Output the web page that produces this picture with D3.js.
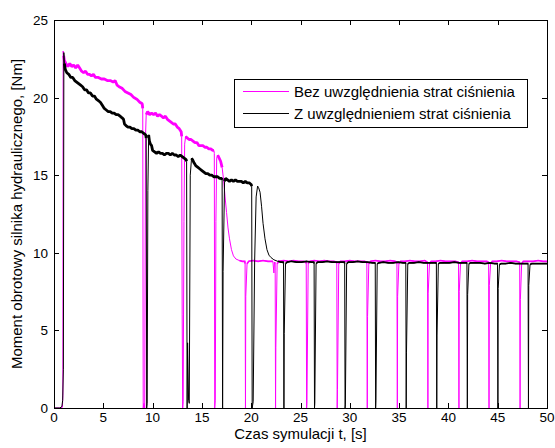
<!DOCTYPE html>
<html>
<head>
<meta charset="utf-8">
<script src="https://cdn.jsdelivr.net/npm/d3@7/dist/d3.min.js"></script>
<style>
  html, body { margin: 0; padding: 0; background: #fff; }
  svg { display: block; }
  text { font-family: "Liberation Sans", Arial, Helvetica, sans-serif; fill: #000; }
</style>
</head>
<body>
<svg id="chart" width="555" height="448"></svg>
<script>
// Torque of the hydraulic motor over simulation time, two model variants.
const xTicks = [0, 5, 10, 15, 20, 25, 30, 35, 40, 45, 50];
const yTicks = [0, 5, 10, 15, 20, 25];

const seriesNames = [
  "Bez uwzględnienia strat ciśnienia",
  "Z uwzględnieniem strat ciśnienia"
];

// [time s, torque Nm] – model without pressure losses
const bezStrat = [
  [0,0],[0.6,0],[0.85,0.05],[0.9,0.8],[0.93,23.0],[0.98,22.7],
  [1.05,22.4],[1.2,22.2],[1.4,22.0],[1.6,22.2],[1.8,22.0],[2.0,22.1],[2.2,21.9],[2.4,22.1],[2.6,21.9],[2.8,21.7],
  [3.0,21.6],[3.2,21.7],[3.4,21.5],[3.6,21.5],[3.8,21.4],[4.0,21.5],[4.2,21.3],[4.5,21.3],[4.8,21.2],[5.1,21.2],
  [5.4,21.1],[5.7,21.1],[6.0,21.0],[6.2,21.1],[6.4,20.8],[6.6,20.7],[6.9,20.6],[7.2,20.4],[7.5,20.3],[7.8,20.2],
  [8.1,20.0],[8.4,19.9],[8.7,19.7],[8.95,19.6],
  [9.0,19.3],[9.05,0],[9.12,0.3],[9.2,0],[9.28,17.5],[9.35,18.9],
  [9.5,19.1],[9.7,18.9],[9.9,19.0],[10.1,18.9],[10.3,19.0],[10.5,18.8],[10.7,18.9],[10.9,18.8],[11.1,18.7],
  [11.3,18.8],[11.5,18.6],[11.7,18.5],[11.9,18.4],[12.1,18.3],[12.3,18.3],[12.5,18.1],[12.7,18.0],[12.9,17.8],
  [12.95,17.5],[13.0,6.0],[13.05,0],[13.1,0.4],[13.18,12],[13.25,17.0],[13.35,17.5],
  [13.5,17.4],[13.7,17.3],[13.9,17.3],[14.1,17.2],[14.3,17.1],[14.5,17.1],[14.7,16.9],[14.9,16.9],[15.1,16.9],
  [15.3,16.8],[15.5,16.8],[15.7,16.7],[15.9,16.7],[16.1,16.6],[16.22,16.6],
  [16.26,16.4],[16.3,0],[16.36,0.5],[16.42,12],[16.5,16.1],[16.6,16.3],
  [16.75,16.1],[16.9,15.9],[17.05,15.5],[17.2,14.7],[17.35,13.6],[17.5,12.6],[17.65,11.6],[17.8,10.9],
  [18.0,10.2],[18.2,9.8],[18.45,9.6],[18.8,9.5],[19.1,9.45],[19.35,9.45],
  [19.38,9.3],[19.42,0],[19.45,7.2],[19.58,9.3],[19.75,9.45],
  [20.2,9.5],[20.7,9.45],[21.2,9.5],[21.7,9.45],[22.2,9.45],[22.3,8.7],[22.36,9.4],
  [22.43,9.3],[22.47,0],[22.5,3.9],[22.63,9.3],[22.8,9.45],
  [23.3,9.5],[23.8,9.45],[24.3,9.5],[24.8,9.45],[25.3,9.45],[25.55,9.4],
  [25.58,9.3],[25.62,0],[25.65,0.3],[25.78,9.3],[25.95,9.45],
  [26.4,9.5],[26.9,9.45],[27.4,9.5],[27.9,9.45],[28.4,9.45],[28.65,9.4],
  [28.68,9.3],[28.72,0],[28.75,1.2],[28.88,9.3],[29.05,9.45],
  [29.5,9.45],[30.0,9.5],[30.5,9.45],[31.0,9.45],[31.5,9.45],[31.7,9.4],
  [31.73,9.3],[31.77,0],[31.8,5.9],[31.93,9.3],[32.1,9.45],
  [32.6,9.5],[33.1,9.45],[33.6,9.45],[34.1,9.5],[34.6,9.45],[34.75,9.4],
  [34.78,9.3],[34.82,0],[34.85,7.2],[34.98,9.3],[35.15,9.45],
  [35.6,9.45],[36.1,9.5],[36.6,9.45],[37.1,9.45],[37.6,9.5],[37.85,9.4],
  [37.88,9.3],[37.92,0],[37.95,7.4],[38.08,9.3],[38.25,9.45],
  [38.7,9.45],[39.2,9.5],[39.7,9.45],[40.2,9.45],[40.7,9.45],[41.0,9.4],
  [41.03,9.3],[41.07,0],[41.1,7.5],[41.23,9.3],[41.4,9.45],
  [41.9,9.45],[42.4,9.5],[42.9,9.45],[43.4,9.45],[43.9,9.45],[44.05,9.4],
  [44.08,9.3],[44.12,0],[44.15,7.9],[44.28,9.3],[44.45,9.45],
  [44.9,9.45],[45.4,9.5],[45.9,9.45],[46.4,9.45],[46.9,9.45],[47.2,9.4],
  [47.23,9.3],[47.27,0],[47.3,7.0],[47.43,9.3],[47.6,9.45],
  [48.1,9.45],[48.6,9.45],[49.1,9.5],[49.6,9.45],[50,9.45]
];

// [time s, torque Nm] – model with pressure losses
const zStrat = [
  [0,0],[0.6,0],[0.8,0.1],[0.88,0.5],[0.95,2.5],[1.0,22.9],[1.05,22.2],
  [1.15,21.8],[1.3,21.6],[1.5,21.5],[1.7,21.3],[1.9,21.3],[2.1,21.1],[2.3,21.0],[2.5,20.9],[2.7,20.8],[2.9,20.7],
  [3.1,20.5],[3.3,20.5],[3.5,20.3],[3.7,20.3],[3.9,20.1],[4.1,20.1],[4.3,19.9],[4.5,19.8],[4.7,19.7],[4.9,19.5],
  [5.1,19.3],[5.3,19.2],[5.5,19.1],[5.7,19.1],[5.9,19.0],[6.1,19.0],[6.3,18.9],[6.5,18.9],[6.7,18.8],[6.9,18.7],
  [7.05,18.6],[7.15,18.3],[7.3,18.2],[7.5,18.1],[7.7,18.1],[7.9,18.0],[8.1,18.0],[8.3,17.9],[8.5,17.9],[8.7,17.8],
  [8.9,17.8],[9.1,17.7],[9.3,17.6],
  [9.35,17.4],[9.4,0],[9.45,0.3],[9.52,14],[9.6,17.6],[9.68,17.2],[9.78,17.0],[9.9,16.9],[10.0,16.6],[10.2,16.5],
  [10.4,16.4],[10.6,16.5],[10.8,16.4],[11.0,16.4],[11.2,16.3],[11.4,16.4],[11.6,16.4],[11.8,16.3],[12.0,16.4],
  [12.2,16.3],[12.4,16.3],[12.6,16.2],[12.8,16.3],[13.0,16.2],[13.2,16.1],[13.4,16.0],
  [13.45,15.9],[13.5,0],[13.55,4.2],[13.65,0.5],[13.72,0.3],[13.82,15.0],[13.95,16.1],[14.05,16.0],[14.2,15.8],
  [14.4,15.6],[14.6,15.5],[14.8,15.4],[15.0,15.3],[15.2,15.2],[15.4,15.1],[15.6,15.1],[15.8,15.0],[16.0,15.0],
  [16.2,14.9],[16.4,14.9],[16.6,14.9],[16.8,14.8],[17.0,14.8],
  [17.05,14.7],[17.1,0],[17.15,8.8],[17.3,14.6],[17.4,14.8],[17.6,14.7],[17.8,14.6],[18.0,14.7],[18.2,14.6],
  [18.4,14.7],[18.6,14.6],[18.8,14.6],[19.0,14.6],[19.2,14.5],[19.4,14.6],[19.6,14.5],[19.8,14.5],[20.0,14.4],
  [20.05,14.3],[20.1,0],[20.2,0.4],[20.35,9.5],[20.5,13.6],[20.65,14.3],[20.75,14.2],[20.9,13.9],[21.05,13.0],
  [21.2,11.9],[21.4,10.9],[21.6,10.2],[21.8,9.85],[22.0,9.7],[22.3,9.55],[22.7,9.45],[23.0,9.4],[23.25,9.4],
  [23.28,9.3],[23.32,0],[23.35,4.8],[23.48,9.3],[23.65,9.4],
  [24.1,9.45],[24.6,9.4],[25.1,9.4],[25.6,9.45],[26.1,9.4],[26.35,9.4],
  [26.38,9.3],[26.42,0],[26.45,0.3],[26.58,9.3],[26.75,9.4],
  [27.2,9.4],[27.7,9.45],[28.2,9.4],[28.7,9.4],[29.2,9.4],[29.45,9.4],
  [29.48,9.3],[29.52,0],[29.55,0.2],[29.68,9.3],[29.85,9.4],
  [30.3,9.4],[30.8,9.45],[31.3,9.4],[31.8,9.4],[32.3,9.35],[32.55,9.35],
  [32.58,9.3],[32.62,0],[32.65,0.5],[32.78,9.3],[32.95,9.35],
  [33.4,9.4],[33.9,9.35],[34.4,9.35],[34.9,9.4],[35.4,9.35],[35.65,9.35],
  [35.68,9.3],[35.72,0],[35.75,3.6],[35.88,9.3],[36.05,9.35],
  [36.5,9.35],[37.0,9.4],[37.5,9.35],[38.0,9.35],[38.5,9.35],[38.75,9.35],
  [38.78,9.3],[38.82,0],[38.85,4.7],[38.98,9.3],[39.15,9.35],
  [39.6,9.35],[40.1,9.35],[40.6,9.4],[41.1,9.35],[41.6,9.35],[41.85,9.35],
  [41.88,9.3],[41.92,0],[41.95,7.3],[42.08,9.3],[42.25,9.35],
  [42.7,9.35],[43.2,9.35],[43.7,9.3],[44.2,9.35],[44.7,9.3],[44.95,9.3],
  [44.98,9.25],[45.02,0],[45.05,7.7],[45.18,9.25],[45.35,9.3],
  [45.8,9.3],[46.3,9.35],[46.8,9.3],[47.3,9.3],[47.8,9.3],[48.05,9.3],
  [48.08,9.25],[48.12,0],[48.15,7.9],[48.28,9.25],[48.45,9.3],
  [48.9,9.3],[49.4,9.3],[49.9,9.3],[50,9.3]
];

// Time spans where the signal carries visible high-frequency ripple
const bezNoisy = [[0.98, 9.0], [9.35, 12.95], [13.35, 16.22], [16.6, 17.1]];
const zNoisy = [[1.05, 9.35], [9.6, 13.45], [13.95, 17.05], [17.3, 20.05]];
const bezSteady = [[18.8, 50]];
const zSteady = [[22.7, 50]];

const svg = d3.select("#chart");
const margin = { left: 54, right: 8, top: 20, bottom: 40 };
const W = 555, H = 448;

const x = d3.scaleLinear().domain([0, 50]).range([margin.left, W - margin.right]);
const y = d3.scaleLinear().domain([0, 25]).range([H - margin.bottom, margin.top]);

svg.append("defs").append("clipPath").attr("id", "plotClip")
  .append("rect")
  .attr("x", x(0)).attr("y", y(25))
  .attr("width", x(50) - x(0)).attr("height", y(0) - y(25));

const plot = svg.append("g").attr("clip-path", "url(#plotClip)");

const line = d3.line().x(d => x(d[0])).y(d => y(d[1]));
const inside = (ranges) => (d) => ranges.some(r => d[0] >= r[0] && d[0] <= r[1]) && d[1] > 9;

function drawSeries(data, noisy, steady, color) {
  plot.append("path").datum(data)
    .attr("fill", "none").attr("stroke", color).attr("stroke-width", 1)
    .attr("d", line);
  plot.append("path").datum(data)
    .attr("fill", "none").attr("stroke", color).attr("stroke-width", 1.6)
    .attr("d", line.defined(inside(steady)));
  plot.append("path").datum(data)
    .attr("fill", "none").attr("stroke", color).attr("stroke-width", 2.8)
    .attr("stroke-linejoin", "bevel")
    .attr("d", line.defined(inside(noisy)));
  line.defined(() => true);
}

drawSeries(bezStrat, bezNoisy, bezSteady, "#ff00ff");
drawSeries(zStrat, zNoisy, zSteady, "#000000");

// Axes box with inward ticks on all sides
const axes = svg.append("g");
axes.append("rect")
  .attr("x", x(0) + 0.5).attr("y", y(25) + 0.5)
  .attr("width", x(50) - x(0)).attr("height", y(0) - y(25))
  .attr("fill", "none").attr("stroke", "#000").attr("stroke-width", 1);

const tl = 5;
const px = v => Math.round(x(v)) + 0.5;
const py = v => Math.round(y(v)) + 0.5;

xTicks.forEach(t => {
  axes.append("line").attr("x1", px(t)).attr("x2", px(t))
    .attr("y1", y(0)).attr("y2", y(0) - tl).attr("stroke", "#000");
  axes.append("line").attr("x1", px(t)).attr("x2", px(t))
    .attr("y1", y(25)).attr("y2", y(25) + tl).attr("stroke", "#000");
  axes.append("text").attr("x", x(t)).attr("y", y(0) + 14)
    .attr("text-anchor", "middle").attr("font-size", 13.5).text(t);
});

yTicks.forEach(t => {
  axes.append("line").attr("x1", x(0)).attr("x2", x(0) + tl)
    .attr("y1", py(t)).attr("y2", py(t)).attr("stroke", "#000");
  axes.append("line").attr("x1", x(50)).attr("x2", x(50) - tl)
    .attr("y1", py(t)).attr("y2", py(t)).attr("stroke", "#000");
  axes.append("text").attr("x", x(0) - 6).attr("y", y(t) + 5)
    .attr("text-anchor", "end").attr("font-size", 13.5).text(t);
});

svg.append("text")
  .attr("x", (x(0) + x(50)) / 2).attr("y", 439)
  .attr("text-anchor", "middle").attr("font-size", 15)
  .text("Czas symulacji t, [s]");

svg.append("text")
  .attr("transform", `translate(22,${(y(0) + y(25)) / 2}) rotate(-90)`)
  .attr("text-anchor", "middle").attr("font-size", 15)
  .text("Moment obrotowy silnika hydraulicznego, [Nm]");

// Legend
const legend = svg.append("g");
legend.append("rect")
  .attr("x", 234.5).attr("y", 79.5).attr("width", 293).attr("height", 48)
  .attr("fill", "#fff").attr("stroke", "#000");
const legendColors = ["#ff00ff", "#000000"];
seriesNames.forEach((name, i) => {
  const ly = 91.5 + i * 22;
  legend.append("line").attr("x1", 243).attr("x2", 289)
    .attr("y1", ly).attr("y2", ly).attr("stroke", legendColors[i]).attr("stroke-width", 1);
  legend.append("text").attr("x", 294).attr("y", ly + 5)
    .attr("font-size", 15).text(name);
});
</script>
</body>
</html>
